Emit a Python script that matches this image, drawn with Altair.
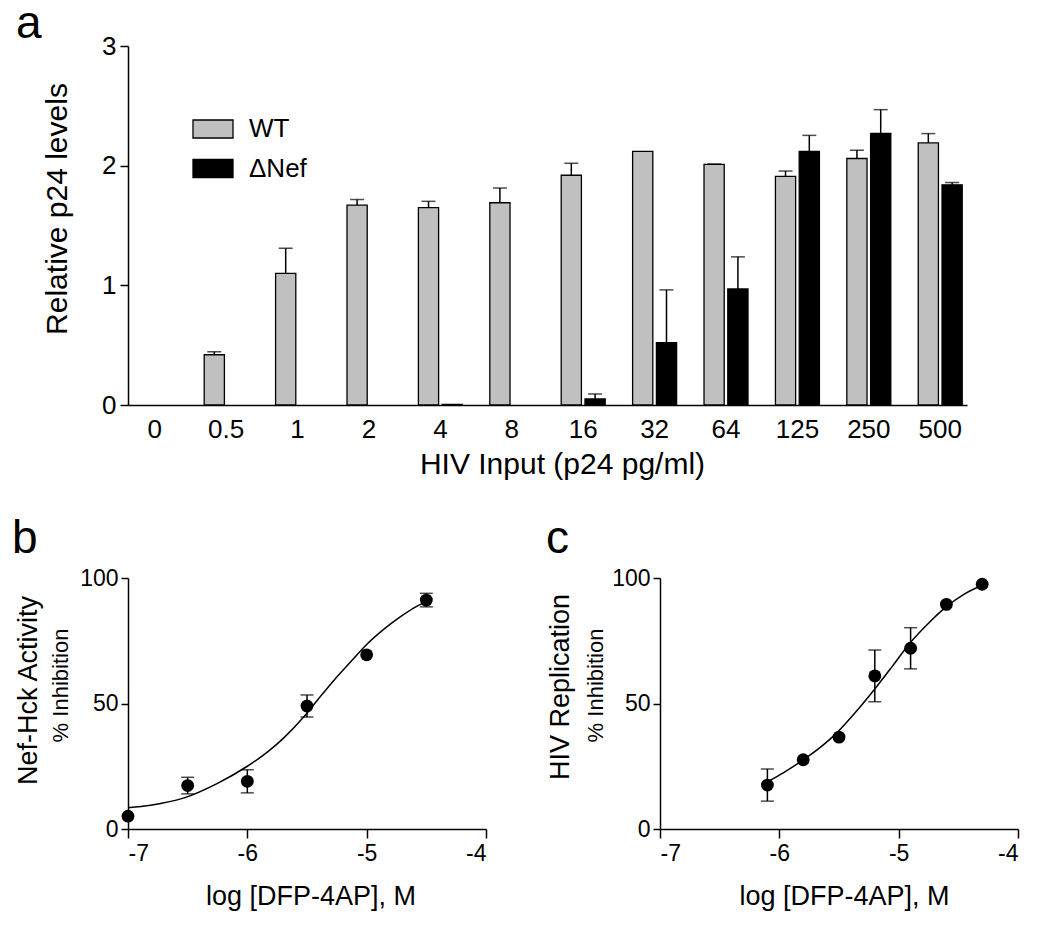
import altair as alt
import pandas as pd

FONT = "Liberation Sans"

# ---------------- Panel a data ----------------
doses = ["0", "0.5", "1", "2", "4", "8", "16", "32", "64", "125", "250", "500"]
groups = ["WT", "ΔNef"]
wt_mean = [0.0, 0.42, 1.10, 1.67, 1.65, 1.69, 1.92, 2.12, 2.01, 1.91, 2.06, 2.19]
wt_err = [0.0, 0.025, 0.21, 0.047, 0.052, 0.123, 0.10, 0.0, 0.004, 0.045, 0.069, 0.078]
dnef_mean = [0.0, 0.0, 0.0, 0.0, 0.005, 0.0, 0.05, 0.52, 0.97, 2.12, 2.27, 1.84]
dnef_err = [0.0, 0.0, 0.0, 0.0, 0.0, 0.0, 0.042, 0.442, 0.268, 0.133, 0.198, 0.019]

# ---------------- Panel b data ----------------
b_x = [-7.0, -6.5, -6.0, -5.5, -5.0, -4.5]
b_y = [5.1, 17.3, 19.0, 49.0, 69.4, 91.2]
b_sem = [0.0, 3.3, 4.6, 4.4, 0.0, 2.7]
b_fit_x = [-7.0, -6.81, -6.53, -6.25, -6.0, -5.83, -5.69, -5.53, -5.41, -5.27,
           -5.13, -5.0, -4.85, -4.71, -4.57, -4.5]
b_fit_y = [8.5, 9.5, 12.4, 18.2, 25.0, 30.7, 36.5, 44.5, 51.5, 59.5,
           66.8, 73.5, 79.8, 84.8, 89.0, 90.5]

# ---------------- Panel c data ----------------
c_x = [-6.1, -5.8, -5.5, -5.2, -4.9, -4.6, -4.3]
c_y = [17.5, 27.6, 36.6, 61.0, 72.0, 89.5, 97.5]
c_sem = [6.4, 0.0, 0.0, 10.3, 8.2, 0.0, 0.0]
c_fit_x = [-6.1, -5.96, -5.81, -5.66, -5.51, -5.36, -5.20, -5.05, -4.90,
           -4.75, -4.60, -4.45, -4.30]
c_fit_y = [18.8, 22.6, 27.2, 32.4, 38.7, 46.6, 55.8, 65.0, 74.4,
           82.0, 88.6, 93.6, 97.1]

# ---------------- Panel a ----------------
rows = []
for i, d in enumerate(doses):
    rows.append(dict(dose=d, group="WT", mean=wt_mean[i], err=wt_err[i]))
    rows.append(dict(dose=d, group="ΔNef", mean=dnef_mean[i], err=dnef_err[i]))
df_a = pd.DataFrame(rows)
df_a["hi"] = df_a["mean"] + df_a["err"]

x_a = alt.X(
    "dose:N", sort=doses,
    scale=alt.Scale(domain=doses, paddingInner=0.384, paddingOuter=0.067),
    axis=alt.Axis(
        title="HIV Input (p24 pg/ml)", labelAngle=0, ticks=False, tickSize=0,
        labelPadding=11, labelFontSize=26, titleFontSize=30, titleFontWeight="normal",
        titleX=434, titleY=44, titleAlign="center", titleBaseline="top", grid=False,
    ),
)
xo_a = alt.XOffset("group:N", sort=groups,
                   scale=alt.Scale(domain=groups, paddingInner=0.15, paddingOuter=0))
y_scale_a = alt.Scale(domain=[0, 3], nice=False)
y_axis_a = alt.Axis(
    title="Relative p24 levels", values=[0, 1, 2, 3], tickSize=8, labelPadding=4,
    labelFontSize=26, titleFontSize=30, titleFontWeight="normal", titleX=-56,
    titleY=162.5, titleAngle=-90, titleAlign="center", titleBaseline="bottom", grid=False,
)

bars = alt.Chart(df_a).transform_filter("datum.mean > 0").mark_bar(
    stroke="black", strokeWidth=1.3
).encode(
    x=x_a, xOffset=xo_a,
    y=alt.Y("mean:Q", scale=y_scale_a, axis=y_axis_a),
    color=alt.Color(
        "group:N", sort=groups,
        scale=alt.Scale(domain=groups, range=["#c0c0c0", "#000000"]),
        legend=alt.Legend(
            title=None, orient="none", legendX=64, legendY=62,
            symbolType="M-1,-0.45H1V0.45H-1Z", symbolSize=1600,
            symbolStrokeColor="black", symbolStrokeWidth=1.3, symbolOpacity=1,
            labelFontSize=26, labelOffset=15, rowPadding=5.5, padding=0,
            direction="vertical",
        ),
    ),
)
err_rule_a = alt.Chart(df_a).transform_filter("datum.err > 0").mark_rule(
    color="black", strokeWidth=1.5
).encode(
    x=x_a, xOffset=xo_a,
    y=alt.Y("mean:Q", scale=y_scale_a, axis=y_axis_a), y2="hi:Q",
)
err_cap_a = alt.Chart(df_a).transform_filter("datum.err > 0").mark_tick(
    color="black", thickness=1.5, size=14, orient="horizontal"
).encode(
    x=x_a, xOffset=xo_a,
    y=alt.Y("hi:Q", scale=y_scale_a, axis=y_axis_a),
)

panel_a = alt.layer(bars, err_rule_a, err_cap_a).properties(
    width=839, height=359,
    title=alt.TitleParams("a", anchor="start", frame="group", fontSize=46,
                          fontWeight="normal", offset=0, dx=-112, dy=51,
                          baseline="alphabetic"),
)


# ---------------- Panels b & c ----------------
def dose_panel(px, py, psem, fx, fy, ytitle, letter, letter_dx, xtitle_x, ytitle_y, sub_x, sub_y):
    df_p = pd.DataFrame({"x": px, "y": py, "sem": psem})
    df_p["lo"] = df_p["y"] - df_p["sem"]
    df_p["hi"] = df_p["y"] + df_p["sem"]
    df_f = pd.DataFrame({"x": fx, "y": fy})

    xs = alt.Scale(domain=[-7, -4], nice=False, zero=False)
    xax = alt.Axis(
        title="log [DFP-4AP], M", values=[-7, -6, -5, -4], labelExpr="datum.value + ''",
        tickSize=9, labelPadding=4, labelFontSize=23, titleFontSize=27,
        titleFontWeight="normal", titleX=xtitle_x, titleY=54, titleAlign="center",
        titleBaseline="top", grid=False,
    )
    xe = alt.X("x:Q", scale=xs, axis=xax)
    ys = alt.Scale(domain=[0, 100], nice=False, zero=True)
    yax1 = alt.Axis(
        title=ytitle, values=[0, 50, 100], tickSize=7, labelPadding=3, labelFontSize=23,
        titleFontSize=27, titleFontWeight="normal", titleX=-86, titleY=ytitle_y,
        titleAngle=-90, titleAlign="center", titleBaseline="bottom", grid=False,
        orient="left",
    )
    yax2 = alt.Axis(
        title="% Inhibition", labels=False, ticks=False, domain=False, grid=False,
        titleFontSize=22, titleFontWeight="normal", titleX=sub_x, titleY=sub_y,
        titleAngle=-90, titleAlign="center", titleBaseline="bottom", orient="left",
    )

    fit = alt.Chart(df_f).mark_line(color="black", strokeWidth=1.5, interpolate="monotone").encode(
        x=xe, y=alt.Y("y:Q", scale=ys, axis=yax1)
    )
    pts = alt.Chart(df_p).mark_circle(size=165, color="black", opacity=1).encode(
        x=xe, y=alt.Y("y:Q", scale=ys, axis=yax2)
    )
    errs = alt.Chart(df_p).transform_filter("datum.sem > 0").mark_rule(
        color="black", strokeWidth=1.5
    ).encode(x=xe, y=alt.Y("lo:Q", scale=ys, axis=None), y2="hi:Q")
    cap_hi = alt.Chart(df_p).transform_filter("datum.sem > 0").mark_tick(
        color="black", thickness=1.5, size=13, orient="horizontal"
    ).encode(x=xe, y=alt.Y("hi:Q", scale=ys, axis=None))
    cap_lo = alt.Chart(df_p).transform_filter("datum.sem > 0").mark_tick(
        color="black", thickness=1.5, size=13, orient="horizontal"
    ).encode(x=xe, y=alt.Y("lo:Q", scale=ys, axis=None))

    return alt.layer(errs, cap_hi, cap_lo, fit, pts).resolve_axis(y="independent").properties(
        width=358, height=251,
        title=alt.TitleParams(letter, anchor="start", frame="group", fontSize=46,
                              fontWeight="normal", offset=0, dx=letter_dx,
                              dy=31.5, baseline="alphabetic"),
    )


panel_b = dose_panel(b_x, b_y, b_sem, b_fit_x, b_fit_y, "Nef-Hck Activity", "b", -116,
                     182.5, 112, -55.5, 107)
panel_c = dose_panel(c_x, c_y, c_sem, c_fit_x, c_fit_y, "HIV Replication", "c", -114,
                     184, 108.5, -53, 107)

bottom = alt.hconcat(panel_b, panel_c, spacing=174, bounds="flush")

chart = alt.vconcat(panel_a, bottom, spacing=173, bounds="flush").properties(
    padding={"left": 4, "top": -7, "right": 5, "bottom": 5}
).configure(font=FONT).configure_view(stroke=None).configure_axis(
    labelColor="black", titleColor="black", domainColor="black", tickColor="black",
    domainWidth=1.5, tickWidth=1.5, labelFont=FONT, titleFont=FONT,
).configure_legend(labelColor="black", labelFont=FONT).configure_title(
    color="black", font=FONT
)

chart.save("out.html", embed_options={"renderer": "svg", "actions": False})
